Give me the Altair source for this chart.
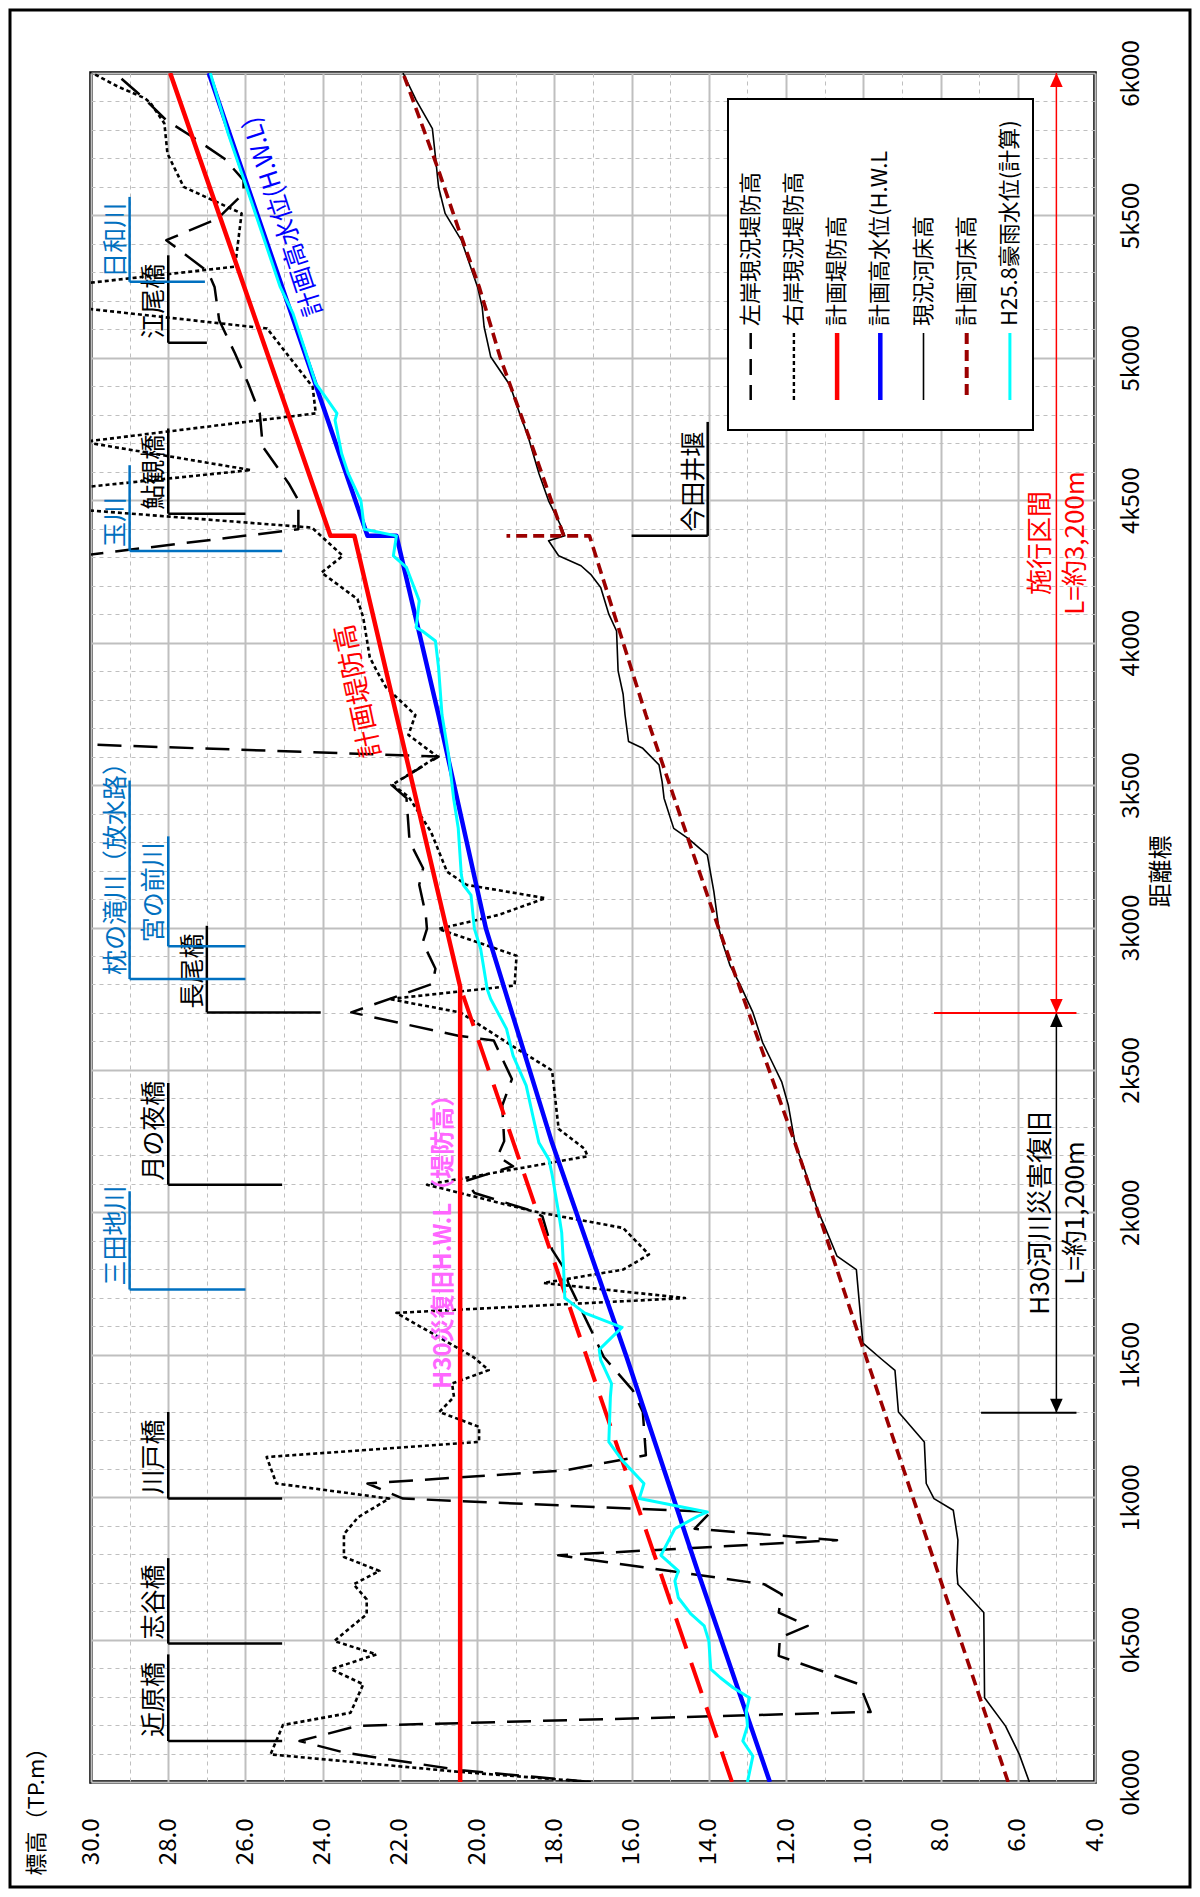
import altair as alt
import pandas as pd

FONT = "Noto Sans CJK JP"

# ---------------- series data (distance m, elevation TP.m) ----------------
LEFT_D = [0, 41, 103, 144, 197, 246, 343, 443, 507, 548, 595, 659, 694, 796, 849, 889, 948, 995, 1048, 1094,
          1147, 1299, 1375, 1492, 1541, 1612, 1752, 1799, 1869, 1986, 2004, 2068, 2110, 2162, 2197, 2250, 2375,
          2468, 2603, 2620, 2702, 2802, 2855, 2948, 2995, 3044, 3150, 3208, 3302, 3454, 3501, 3524, 3600, 3645,
          4300, 4398, 4500, 4559, 4688, 4805, 4910, 5015, 5132, 5249, 5302, 5413, 5489, 5577, 5624, 5700, 5776,
          5834, 5911, 6000]
LEFT_E = [17.06, 20.41, 23.43, 24.60, 23.09, 9.81, 10.10, 12.19, 12.16, 11.44, 12.19, 12.11, 12.56, 17.90, 10.68,
          14.37, 13.95, 21.92, 22.84, 17.73, 15.63, 15.71, 15.97, 16.72, 16.89, 17.14, 17.64, 17.73, 18.06, 18.31,
          18.56, 20.07, 20.30, 19.07, 19.47, 19.30, 19.35, 19.10, 19.57, 20.49, 23.26, 21.16, 21.08, 21.41, 21.30,
          21.33, 21.50, 21.40, 21.75, 21.83, 22.22, 21.92, 21.00, 30.60, 30.60, 24.63, 24.63, 24.88, 25.55, 25.63,
          25.93, 26.27, 26.68, 26.80, 26.97, 28.05, 26.72, 26.05, 26.05, 26.55, 27.38, 28.05, 28.63, 29.38]

RIGHT_D = [0, 36, 97, 200, 243, 343, 396, 448, 495, 589, 641, 694, 741, 790, 870, 930, 995, 1048, 1141, 1194,
           1247, 1299, 1352, 1399, 1446, 1492, 1647, 1699, 1752, 1799, 1852, 1945, 2004, 2097, 2197, 2223, 2293,
           2498, 2585, 2702, 2749, 2796, 2901, 2995, 3044, 3103, 3150, 3196, 3337, 3460, 3501, 3600, 3676, 3746,
           3843, 3901, 3948, 4088, 4153, 4246, 4305, 4404, 4470, 4540, 4606, 4705, 4805, 4898, 5103, 5180, 5255,
           5320, 5507, 5600, 5717, 5823, 5893, 5911, 5952, 6000]
RIGHT_E = [17.06, 20.50, 25.35, 25.03, 23.28, 22.95, 23.78, 22.61, 23.70, 22.86, 22.86, 23.20, 22.53, 23.45, 23.45,
           23.08, 22.28, 25.20, 25.45, 19.95, 19.95, 20.98, 20.60, 20.65, 19.70, 20.10, 22.09, 14.62, 18.28, 16.22,
           15.55, 16.22, 18.56, 21.30, 17.14, 17.22, 17.89, 18.06, 19.10, 20.44, 22.28, 19.03, 18.98, 21.00, 19.45,
           18.23, 20.28, 20.78, 21.20, 21.78, 22.20, 21.03, 21.78, 21.60, 22.36, 22.60, 22.78, 22.95, 23.10, 24.03,
           23.48, 24.28, 30.60, 30.60, 25.86, 30.20, 24.18, 24.26, 25.44, 30.60, 30.60, 26.27, 26.10, 27.60, 28.02,
           28.10, 28.45, 28.60, 29.30, 29.97]

PLAN_LEVEE_D = [0, 2792, 4375, 4375, 6000]
PLAN_LEVEE_E = [20.44, 20.44, 23.18, 23.80, 27.95]

HWL_D = [0, 741, 1492, 2244, 2995, 3746, 4375, 4375, 6000]
HWL_E = [12.42, 14.29, 16.13, 18.06, 19.77, 21.00, 22.09, 22.84, 26.95]

H30_D = [0, 2792]
H30_E = [13.40, 20.44]

BED_D = [0, 97, 197, 296, 595, 694, 741, 849, 954, 995, 1048, 1194, 1299, 1445, 1486, 1541, 1799, 1846, 1957, 2010,
         2150, 2244, 2375, 2457, 2527, 2597, 2702, 2802, 2866, 2936, 2995, 3126, 3255, 3313, 3348, 3454, 3512, 3571,
         3629, 3653, 3746, 3819, 3901, 4041, 4100, 4194, 4240, 4270, 4305, 4358, 4375, 4404, 4451, 4498, 4594, 4723,
         4805, 4904, 5004, 5109, 5179, 5249, 5413, 5507, 5600, 5706, 5805, 5905, 6000]
BED_E = [5.70, 5.96, 6.32, 6.86, 6.88, 7.55, 7.58, 7.55, 7.67, 8.17, 8.37, 8.42, 9.09, 9.18, 9.54, 10.01, 10.18, 10.68,
         11.02, 11.19, 11.52, 11.77, 11.94, 12.11, 12.36, 12.61, 12.86, 13.20, 13.45, 13.62, 13.74, 13.87, 14.04,
         14.54, 14.91, 15.16, 15.21, 15.29, 15.71, 16.08, 16.17, 16.22, 16.35, 16.39, 16.59, 16.80, 17.06, 17.31,
         17.89, 18.15, 17.73, 17.81, 17.98, 18.15, 18.40, 18.68, 18.90, 19.15, 19.65, 19.82, 19.87, 19.99, 20.41,
         20.83, 21.00, 21.08, 21.16, 21.58, 21.92]

PBED_D = [0, 741, 1492, 2244, 2995, 3746, 4375, 4375, 4375, 4700, 5000, 5250, 5460, 5670, 6000]
PBED_E = [6.25, 8.08, 9.93, 11.77, 13.74, 15.63, 17.09, 19.24, 17.76, 18.60, 19.40, 19.95, 20.50, 21.03, 21.92]
PBED_SEG = [0, 0, 0, 0, 0, 0, 0, 0, 1, 1, 1, 1, 1, 1, 1]

H25_D = [0, 91, 144, 197, 249, 296, 331, 366, 396, 495, 548, 589, 647, 706, 741, 796, 889, 933, 948, 995, 1048,
         1130, 1194, 1352, 1399, 1481, 1518, 1596, 1647, 1682, 1699, 1799, 1928, 1998, 2133, 2185, 2244, 2340,
         2445, 2550, 2644, 2749, 2784, 2925, 2995, 3114, 3150, 3185, 3349, 3454, 3606, 3746, 3913, 4006, 4041,
         4053, 4147, 4264, 4305, 4375, 4398, 4498, 4594, 4664, 4781, 4805, 4863, 4910, 5015, 5156, 5249, 5554,
         5788, 6000]
H25_E = [13.00, 12.86, 13.12, 13.00, 13.03, 12.95, 13.37, 13.70, 13.95, 14.00, 14.12, 14.46, 14.79, 14.88, 14.79,
         15.24, 14.88, 14.29, 14.04, 15.80, 15.68, 16.25, 16.59, 16.55, 16.52, 16.80, 16.84, 16.25, 17.22, 17.56,
         17.73, 17.76, 17.81, 17.89, 18.06, 18.14, 18.40, 18.56, 18.73, 19.07, 19.24, 19.65, 19.74, 19.91, 20.07,
         20.16, 20.36, 20.41, 20.49, 20.61, 20.74, 20.91, 21.00, 21.08, 21.42, 21.58, 21.50, 21.83, 22.17, 22.09,
         22.92, 23.01, 23.34, 23.51, 23.68, 23.63, 23.93, 24.18, 24.43, 24.77, 25.10, 25.86, 26.45, 26.91]

# ---------------- annotations ----------------
BRIDGE_NAMES = ["近原橋", "志谷橋", "川戸橋", "月の夜橋", "長尾橋", "鮎観橋", "江尾橋"]
BRIDGE_D = [144, 486, 995, 2097, 2702, 4453, 5053]
BRIDGE_TOP = [448, 786, 1299, 2454, 3006, 4752, 5360]
BRIDGE_E = [28.0, 28.0, 28.0, 28.0, 27.0, 28.0, 28.0]
BRIDGE_E2 = [25.05, 25.05, 25.05, 25.05, 24.05, 26.0, 27.0]

RIVER_NAMES = ["三田地川", "枕の滝川（放水路）", "宮の前川", "玉川", "日和川"]
RIVER_D = [1729, 2819, 2934, 4322, 5267]
RIVER_TOP = [2074, 3516, 3320, 4623, 5565]
RIVER_E = [29.0, 29.0, 28.0, 29.0, 29.0]
RIVER_E2 = [26.0, 26.0, 26.0, 25.05, 27.05]

WEIR_NAMES = ["今田井堰"]
WEIR_D = [4375]
WEIR_TOP = [4775]
WEIR_E = [14.03]
WEIR_E2 = [16.0]

SECTION_TITLES = ["H30河川災害復旧", "施行区間"]
SECTION_LENGTHS = ["L=約1,200m", "L=約3,200m"]
SECTION_D0 = [1296, 2700]
SECTION_D1 = [2700, 6000]
SECTION_E = [5.0, 5.0]
SECTION_TICK_E = [6.95, 8.17]
SECTION_TICK_E2 = [4.48, 4.48]
SECTION_COLORS = ["black", "#FF0000"]

LEGEND_NAMES = ["左岸現況堤防高", "右岸現況堤防高", "計画堤防高", "計画高水位(H.W.L",
                "現況河床高", "計画河床高", "H25.8豪雨水位(計算)"]

LBL_LEVEE = "計画堤防高"
LBL_LEVEE_POS = (22.70, 3600)
LBL_HWL = "計画高水位(H.W.L)"
LBL_HWL_POS = (24.20, 5150)
LBL_H30 = "H30災復旧H.W.L（堤防高）"
LBL_H30_POS = (20.56, 1380)

# ---------------- styles ----------------
C_LEVEE = "#FF0000"
C_HWL = "#0000FF"
C_PBED = "#9B0000"
C_H25 = "#00FFFF"
C_RIVER = "#0070C0"
C_H30 = "#FF66FF"
DASH_LEFT = [24, 12]
DASH_RIGHT = [4, 3]
DASH_PBED = [11, 6]
DASH_H30 = [32, 15]

W, H = 1004, 1709

XSC = alt.Scale(domain=[4, 30], reverse=True, nice=False, zero=False)
YSC = alt.Scale(domain=[0, 6000], nice=False, zero=False)

XAXIS = alt.Axis(
    orient="bottom", title="標高（TP.m）", titleFont=FONT, titleFontSize=22, titleFontWeight="normal",
    titleColor="black", titleAngle=270, titleX=-55, titleY=93, titleAlign="left", titleBaseline="middle",
    values=list(range(4, 31)),
    labelExpr="datum.value % 2 === 0 ? format(datum.value, '.1f') : ''",
    labelAngle=270, labelAlign="right", labelBaseline="middle", labelPadding=36, labelFont=FONT,
    labelFontSize=24, labelColor="black", labelOverlap=False, labelFlush=False,
    ticks=False, tickSize=0, domain=False, grid=True, gridColor="#BFBFBF", gridOpacity=1,
    gridDash={"condition": {"test": "datum.value % 2 !== 0", "value": [4, 4]}, "value": []},
    gridWidth={"condition": {"test": "datum.value % 2 !== 0", "value": 1}, "value": 2},
)
YAXIS = alt.Axis(
    orient="right", title="距離標", titleFont=FONT, titleFontSize=24, titleFontWeight="normal",
    titleColor="black", titleAngle=270, titleX=66, titleY=798, titleAlign="center", titleBaseline="middle",
    values=list(range(0, 6001, 100)),
    labelExpr="datum.value % 500 === 0 ? (format(floor(datum.value / 1000), 'd') + 'k' + format(datum.value % 1000, '03d')) : ''",
    labelAngle=270, labelAlign="center", labelBaseline="top", labelPadding=24, labelFont=FONT,
    labelFontSize=24, labelColor="black", labelOverlap=False, labelFlush=False,
    ticks=False, tickSize=0, domain=False, grid=True, gridColor="#BFBFBF", gridOpacity=1,
    gridDash={"condition": {"test": "datum.value % 500 !== 0", "value": [4, 4]}, "value": []},
    gridWidth={"condition": {"test": "datum.value % 500 !== 0", "value": 1}, "value": 2},
)

X = alt.X("e:Q", scale=XSC, axis=XAXIS)
Y = alt.Y("d:Q", scale=YSC, axis=YAXIS)

ONE = pd.DataFrame({"k": [0]})


def series_df(d, e, seg=None):
    df = pd.DataFrame({"d": d, "e": e})
    df["i"] = range(len(df))
    df["seg"] = seg if seg is not None else [0] * len(df)
    return df


def line_layer(df, color, width, dash=None):
    kw = dict(color=color, strokeWidth=width, clip=True, strokeJoin="round")
    if dash is not None:
        kw["strokeDash"] = dash
    return alt.Chart(df).mark_line(**kw).encode(x=X, y=Y, order="i:Q", detail="seg:N")


def bracket_layers(names, d, top, e, e2, color, size):
    df = pd.DataFrame({"name": names, "d": d, "d2": top, "e": e, "e2": e2})
    v = alt.Chart(df).mark_rule(color=color, strokeWidth=2.5).encode(x=X, y=Y, y2=alt.Y2("d2:Q"))
    h = alt.Chart(df).mark_rule(color=color, strokeWidth=2.5).encode(x=X, x2=alt.X2("e2:Q"), y=Y)
    t = alt.Chart(df).mark_text(angle=270, align="left", baseline="bottom", dx=4, dy=-1, font=FONT,
                                fontSize=size, color=color).encode(x=X, y=Y, text="name:N")
    return [v, h, t]


layers = []
layers.append(line_layer(series_df(LEFT_D, LEFT_E), "black", 2.5, DASH_LEFT))
layers.append(line_layer(series_df(RIGHT_D, RIGHT_E), "black", 2.6, DASH_RIGHT))
layers.append(line_layer(series_df(BED_D, BED_E), "black", 1.6))
layers.append(line_layer(series_df(PBED_D, PBED_E, PBED_SEG), C_PBED, 3.6, DASH_PBED))
layers.append(line_layer(series_df(H30_D, H30_E), C_LEVEE, 4, DASH_H30))
layers.append(line_layer(series_df(PLAN_LEVEE_D, PLAN_LEVEE_E), C_LEVEE, 4.5))
layers.append(line_layer(series_df(HWL_D, HWL_E), C_HWL, 4.5))
layers.append(line_layer(series_df(H25_D, H25_E), C_H25, 3))

layers += bracket_layers(BRIDGE_NAMES, BRIDGE_D, BRIDGE_TOP, BRIDGE_E, BRIDGE_E2, "black", 25)
layers += bracket_layers(RIVER_NAMES, RIVER_D, RIVER_TOP, RIVER_E, RIVER_E2, C_RIVER, 25)
layers += bracket_layers(WEIR_NAMES, WEIR_D, WEIR_TOP, WEIR_E, WEIR_E2, "black", 25)

# section arrows
sec = pd.DataFrame({"d": SECTION_D0, "d2": SECTION_D1, "e": SECTION_E, "col": SECTION_COLORS})
layers.append(alt.Chart(sec).mark_rule(strokeWidth=1.5).encode(
    x=X, y=Y, y2=alt.Y2("d2:Q"), color=alt.Color("col:N", scale=None)))
tick = pd.DataFrame({"d": SECTION_D0, "e": SECTION_TICK_E, "e2": SECTION_TICK_E2, "col": SECTION_COLORS})
layers.append(alt.Chart(tick).mark_rule(strokeWidth=2).encode(
    x=X, x2=alt.X2("e2:Q"), y=Y, color=alt.Color("col:N", scale=None)))
heads_down = pd.DataFrame({"d": SECTION_D0, "e": SECTION_E, "col": SECTION_COLORS})
heads_up = pd.DataFrame({"d": SECTION_D1, "e": SECTION_E, "col": SECTION_COLORS})
layers.append(alt.Chart(heads_down).mark_point(shape="M0,0L-0.45,-1L0.45,-1Z", size=784, filled=True,
                                               opacity=1, strokeWidth=0).encode(
    x=X, y=Y, color=alt.Color("col:N", scale=None)))
layers.append(alt.Chart(heads_up).mark_point(shape="M0,0L-0.45,1L0.45,1Z", size=784, filled=True,
                                             opacity=1, strokeWidth=0).encode(
    x=X, y=Y, color=alt.Color("col:N", scale=None)))
sec_txt = pd.DataFrame({"d": [(a + b) / 2 for a, b in zip(SECTION_D0, SECTION_D1)], "e": SECTION_E,
                        "col": SECTION_COLORS, "t": SECTION_TITLES, "l": SECTION_LENGTHS})
layers.append(alt.Chart(sec_txt).mark_text(angle=270, align="center", baseline="bottom", dy=-2, font=FONT,
                                           fontSize=26).encode(
    x=X, y=Y, text="t:N", color=alt.Color("col:N", scale=None)))
layers.append(alt.Chart(sec_txt).mark_text(angle=270, align="center", baseline="top", dy=7, font=FONT,
                                           fontSize=26).encode(
    x=X, y=Y, text="l:N", color=alt.Color("col:N", scale=None)))


# series labels
def label_layer(text, pos, angle, color, size, baseline, weight="normal"):
    df = pd.DataFrame({"e": [pos[0]], "d": [pos[1]], "t": [text]})
    return alt.Chart(df).mark_text(angle=angle, align="left", baseline=baseline, font=FONT, fontSize=size,
                                   fontWeight=weight, color=color).encode(x=X, y=Y, text="t:N")


layers.append(label_layer(LBL_LEVEE, LBL_LEVEE_POS, 258, C_LEVEE, 27, "middle"))
layers.append(label_layer(LBL_HWL, LBL_HWL_POS, 252, C_HWL, 25, "middle"))
layers.append(label_layer(LBL_H30, LBL_H30_POS, 270, C_H30, 24, "bottom", "bold"))

# legend (manual, rotated like the rest of the figure)
layers.append(alt.Chart(ONE).mark_rect(fill="white", stroke="black", strokeWidth=2).encode(
    x=alt.value(637), x2=alt.value(942), y=alt.value(26), y2=alt.value(357)))
leg_styles = [("black", 2.5, [16, 10]), ("black", 2.4, DASH_RIGHT), (C_LEVEE, 4.5, None), (C_HWL, 4.5, None),
              ("black", 1.6, None), (C_PBED, 4, DASH_PBED), (C_H25, 3, None)]
for i, (name, (col, wd, dash)) in enumerate(zip(LEGEND_NAMES, leg_styles)):
    px = 659.7 + 43.2 * i
    kw = dict(color=col, strokeWidth=wd)
    if dash is not None:
        kw["strokeDash"] = dash
    layers.append(alt.Chart(ONE).mark_rule(**kw).encode(
        x=alt.value(px), y=alt.value(260), y2=alt.value(327)))
    layers.append(alt.Chart(ONE).mark_text(text=name, angle=270, align="left", baseline="middle", font=FONT,
                                           fontSize=22, color="black").encode(
        x=alt.value(px), y=alt.value(253)))

# outer frame of the figure
layers.append(alt.Chart(ONE).mark_rect(fill="white", fillOpacity=0, stroke="black", strokeWidth=3).encode(
    x=alt.value(-81), x2=alt.value(1099), y=alt.value(-63), y2=alt.value(1814)))

chart = alt.layer(*layers).properties(
    width=W, height=H,
    padding={"left": 83, "top": 65, "right": 97, "bottom": 107},
    autosize=alt.AutoSizeParams(type="none"),
).configure(background="white").configure_view(stroke="black", strokeWidth=3.5)

chart.save("out.html", embed_options={"renderer": "svg", "actions": False})
